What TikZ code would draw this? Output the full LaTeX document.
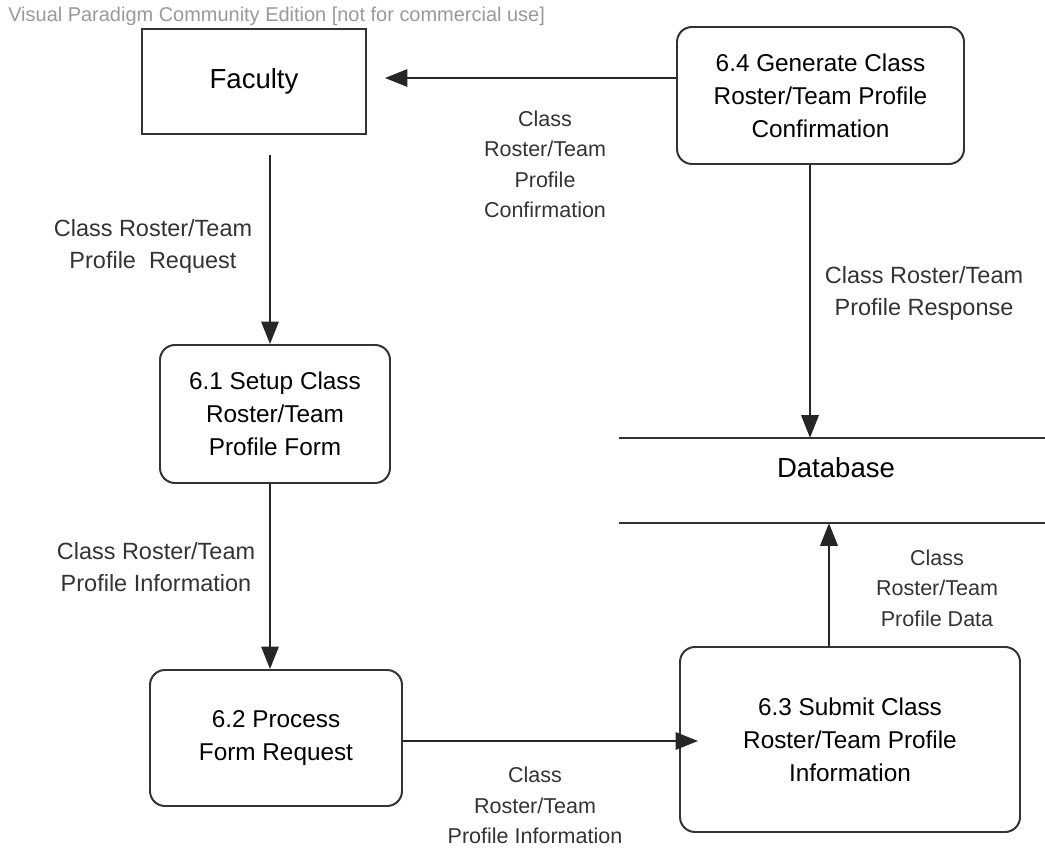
\documentclass[tikz,border=0pt]{standalone}
\usepackage{fontspec}
\setmainfont{Liberation Sans}
\usepackage{xcolor}
\usepackage{tikz}
\usetikzlibrary{arrows.meta}

\begin{document}
\begin{tikzpicture}[
    process/.style={draw=black!80, line width=1.4pt, rounded corners=0.375cm, align=center,
        font=\fontsize{17.3}{23.5}\selectfont},
    entity/.style={draw=black!80, line width=1.4pt, font=\fontsize{19.6}{24}\selectfont},
    flow/.style={line width=1pt, black!85, -{Triangle[length=16pt, width=12.5pt]}},
    flowlabel/.style={align=center, text=black!80, font=\fontsize{16.7}{22.8}\selectfont},
    smalllabel/.style={align=center, text=black!80, font=\fontsize{15.3}{21.7}\selectfont}]
    \useasboundingbox (0,0) rectangle (26.125,21.225);

    % === WATERMARK ===
    \node[anchor=west, inner sep=0pt, text=black!40, font=\fontsize{14.2}{16}\selectfont] (mark) at (0.2,20.825)
        {Visual Paradigm Community Edition [not for commercial use]};

    % === TOP: FACULTY AND 6.4 ===
    \node[entity, minimum width=5.6cm, minimum height=2.625cm] (fac) at (6.35,19.1875) {Faculty};
    \node[process, minimum width=7.175cm, minimum height=3.425cm] (p64) at (20.5125,18.8375)
        {6.4 Generate Class\\Roster/Team Profile\\Confirmation};

    % === LEFT COLUMN: 6.1 AND 6.2 ===
    \node[process, minimum width=5.75cm, minimum height=3.45cm] (p61) at (6.875,10.875)
        {6.1 Setup Class\\Roster/Team\\Profile Form};
    \node[process, minimum width=6.3cm, minimum height=3.4cm] (p62) at (6.9,2.775)
        {6.2 Process\\Form Request};

    % === RIGHT: DATA STORE AND 6.3 ===
    \node[minimum width=10.65cm, minimum height=2.125cm] (db) at (20.8,9.2125) {};
    \draw[line width=1.4pt, black!80] (db.north west) -- (db.north east);
    \draw[line width=1.4pt, black!80] (db.south west) -- (db.south east);
    \node[font=\fontsize{19.6}{24}\selectfont] (dbname) at (20.9,9.525) {Database};
    \node[process, minimum width=8.5cm, minimum height=4.625cm] (p63) at (21.25,2.7375)
        {6.3 Submit Class\\Roster/Team Profile\\Information};

    % Free ends of the flows
    \coordinate (facin) at (9.625,19.275);
    \coordinate (facout) at (6.75,17.35);
    \coordinate (p63in) at (17.45,2.7);

    % === FLOWS ===
    \draw[flow] (p64.west |- facin) -- (facin);
    \draw[flow] (facout) -- (facout |- p61.north);
    \draw[flow] (p61.south -| facout) -- (p62.north -| facout);
    \draw[flow] (p62.east |- p63in) -- (p63in);
    \draw[flow] ([xshift=-0.525cm]p63.north) -- ([xshift=-0.525cm]p63.north |- db.south);
    \draw[flow] ([xshift=-0.2625cm]p64.south) -- ([xshift=-0.2625cm]p64.south |- db.north);

    % Flow labels
    \node[smalllabel] (lconf) at (13.625,17.1125) {Class\\Roster/Team\\Profile\\Confirmation};
    \node[flowlabel] (lreq) at (3.825,15.075) {Class Roster/Team\\Profile\ \ Request};
    \node[flowlabel] (linfo) at (3.9,7.05) {Class Roster/Team\\Profile Information};
    \node[flowlabel] (lresp) at (23.1,13.8875) {Class Roster/Team\\Profile Response};
    \node[smalllabel] (ldata) at (23.425,6.525) {Class\\Roster/Team\\Profile Data};
    \node[smalllabel] (lsub) at (13.375,1.0875) {Class\\Roster/Team\\Profile Information};
\end{tikzpicture}
\end{document}
